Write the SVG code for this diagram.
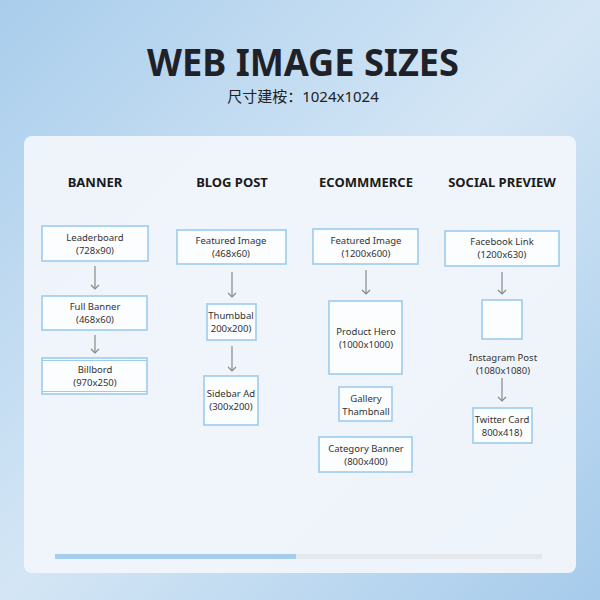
<svg xmlns="http://www.w3.org/2000/svg" width="600" height="600" viewBox="0 0 600 600">
<defs>
<linearGradient id="bg" x1="0" y1="0" x2="1" y2="1"><stop offset="0" stop-color="#a9cdec"/><stop offset="0.5" stop-color="#d4e6f5"/><stop offset="1" stop-color="#a6cbeb"/></linearGradient>
<marker id="ah" markerWidth="10" markerHeight="10" refX="5" refY="5" orient="auto" markerUnits="userSpaceOnUse"><path d="M1,1 L5,5 L1,9" fill="none" stroke="#888" stroke-width="1.2"/></marker>
</defs>
<style>
.b{fill:#fbfdff;stroke:#9ccbee;stroke-width:1.6}
.t{font-family:"Noto Sans","Open Sans",sans-serif;font-size:9.5px;fill:#333;text-anchor:middle}
.h{font-family:"Noto Sans","Open Sans",sans-serif;font-size:13px;font-weight:bold;fill:#1a1a1a;text-anchor:middle}
.c line{stroke:#888;stroke-width:1.2;marker-end:url(#ah)}
</style>
<rect width="600" height="600" fill="url(#bg)"/>
<text x="303" y="76" font-family="'Noto Sans',sans-serif" font-size="37" font-weight="bold" fill="#1e2228" text-anchor="middle" textLength="312" lengthAdjust="spacingAndGlyphs">WEB IMAGE SIZES</text>
<text x="303" y="102" font-family="'Noto Sans','Noto Sans CJK SC',sans-serif" font-size="15" fill="#222" text-anchor="middle">尺寸建桉：1024x1024</text>
<rect x="24" y="136" width="552" height="437" rx="8" fill="#f1f6fb" opacity="0.95"/>
<text class="h" x="95" y="187">BANNER</text>
<text class="h" x="232" y="187">BLOG POST</text>
<text class="h" x="366" y="187">ECOMMMERCE</text>
<text class="h" x="502" y="187">SOCIAL PREVIEW</text>
<g class="c" id="connectors">
<line x1="95" y1="266" x2="95" y2="289"/><line x1="95" y1="335" x2="95" y2="353"/>
<line x1="232" y1="272" x2="232" y2="297"/><line x1="232" y1="346" x2="232" y2="371"/>
<line x1="366" y1="270" x2="366" y2="294"/>
<line x1="502" y1="272" x2="502" y2="294"/><line x1="502" y1="378" x2="502" y2="401"/>
</g>
<g id="leaderboard"><rect class="b" x="42" y="226" width="106" height="35"/><text class="t" x="95" y="240.5">Leaderboard</text><text class="t" x="95" y="253.5">(728x90)</text></g>
<g id="fullbanner"><rect class="b" x="42" y="296" width="105" height="34"/><text class="t" x="95" y="309.5">Full Banner</text><text class="t" x="95" y="322.5">(468x60)</text></g>
<g id="billbord"><rect class="b" x="42" y="358" width="105" height="36"/><line x1="42" y1="360.5" x2="147" y2="360.5" stroke="#9ccbee"/><line x1="42" y1="391.5" x2="147" y2="391.5" stroke="#9ccbee"/><text class="t" x="95" y="372.5">Billbord</text><text class="t" x="95" y="385.5">(970x250)</text></g>
<g id="blogfeatured"><rect class="b" x="177" y="230" width="109" height="34"/><text class="t" x="231" y="243.5">Featured Image</text><text class="t" x="231" y="256.5">(468x60)</text></g>
<g id="thumbbal"><rect class="b" x="207" y="304" width="49" height="36"/><text class="t" x="231" y="318.5">Thumbbal</text><text class="t" x="231" y="331.5">200x200)</text></g>
<g id="sidebar"><rect class="b" x="204" y="376" width="54" height="49"/><text class="t" x="231" y="396.5">Sidebar Ad</text><text class="t" x="231" y="409.5">(300x200)</text></g>
<g id="ecfeatured"><rect class="b" x="313" y="229" width="105" height="35"/><text class="t" x="366" y="243.5">Featured Image</text><text class="t" x="366" y="256.5">(1200x600)</text></g>
<g id="producthero"><rect class="b" x="329" y="301" width="73" height="73"/><text class="t" x="366" y="334.5">Product Hero</text><text class="t" x="366" y="347.5">(1000x1000)</text></g>
<g id="gallery"><rect class="b" x="339" y="387" width="53" height="34"/><text class="t" x="366" y="401.5">Gallery</text><text class="t" x="366" y="414.5">Thambnall</text></g>
<g id="category"><rect class="b" x="319" y="437" width="93" height="35"/><text class="t" x="366" y="451.5">Category Banner</text><text class="t" x="366" y="464.5">(800x400)</text></g>
<g id="facebook"><rect class="b" x="445" y="231" width="114" height="35"/><text class="t" x="502" y="244.5">Facebook Link</text><text class="t" x="502" y="257.5">(1200x630)</text></g>
<g id="instagram"><rect class="b" x="482" y="300" width="40" height="39"/><text class="t" x="503" y="360.5">Instagram Post</text><text class="t" x="503" y="373.5">(1080x1080)</text></g>
<g id="twitter"><rect class="b" x="473" y="408" width="59" height="35"/><text class="t" x="502" y="422.5">Twitter Card</text><text class="t" x="502" y="435.5">800x418)</text></g>
<rect x="55" y="554" width="487" height="5" fill="#e4e8ec"/>
<rect x="55" y="554" width="241" height="5" fill="#a5cdee"/>
</svg>
